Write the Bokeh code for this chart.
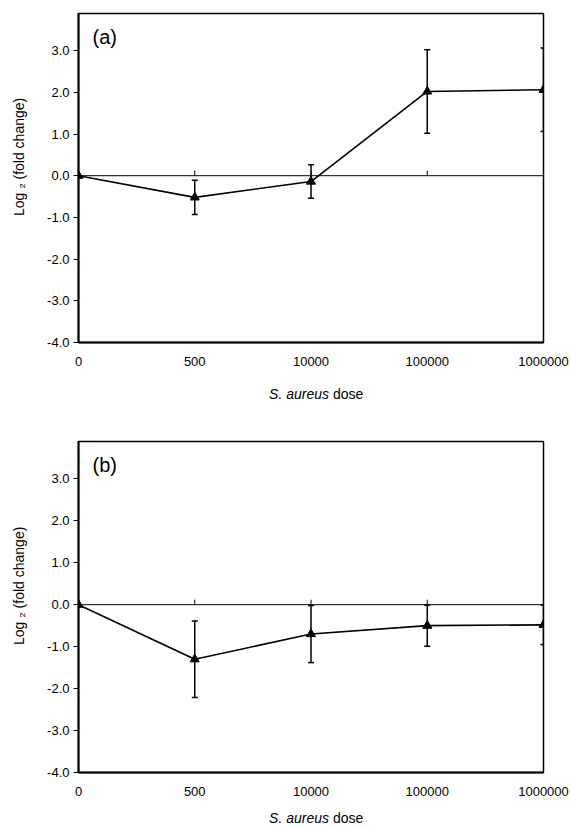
import math
from bokeh.plotting import figure
from bokeh.layouts import column, row
from bokeh.models import (Range1d, FixedTicker, PrintfTickFormatter,
                          Whisker, TeeHead, ColumnDataSource, Label, Span)
from bokeh.core.properties import value
from bokeh.embed import file_html
from bokeh.resources import INLINE

# ---- data ----
doses = ["0", "500", "10000", "100000", "1000000"]
a_mean = [0.0, -0.52, -0.14, 2.02, 2.06]
a_err = [0.0, 0.41, 0.40, 1.00, 1.00]
b_mean = [0.0, -1.30, -0.70, -0.50, -0.48]
b_err = [0.0, 0.91, 0.68, 0.49, 0.47]
y_ticks = [-4, -3, -2, -1, 0, 1, 2, 3]
y_min, y_max = -4.0, 3.89
panel_names = ["(a)", "(b)"]
x_title_italic = "S. aureus"
x_title_plain = "dose"
y_title = "Log \u2082 (fold change)"

FONT = "Liberation Sans"
FW = 465
BL, BR = 78, 27
YT_W = 37


def make_panel(mean, err, name, frame_h, top, bottom):
    idx = list(range(len(doses)))
    p = figure(frame_width=FW, frame_height=frame_h,
               x_range=Range1d(0, len(doses) - 1), y_range=Range1d(y_min, y_max),
               output_backend="svg", toolbar_location=None,
               min_border_left=BL - YT_W, min_border_right=BR,
               min_border_top=top, min_border_bottom=bottom)
    p.xgrid.visible = False
    p.ygrid.visible = False
    p.outline_line_color = "black"
    p.outline_line_width = 1.5
    p.outline_line_alpha = 1.0

    xa = p.xaxis[0]
    xa.ticker = FixedTicker(ticks=idx)
    xa.major_label_overrides = {i: d for i, d in zip(idx, doses)}
    xa.major_tick_in = 0
    xa.major_tick_out = 0
    xa.minor_tick_line_color = None
    xa.axis_line_width = 2
    xa.axis_line_color = "black"
    xa.major_label_standoff = 14
    xa.major_label_text_font = FONT
    xa.major_label_text_font_size = "13px"
    xa.major_label_text_color = "black"

    ya = p.yaxis[0]
    ya.ticker = FixedTicker(ticks=y_ticks)
    ya.formatter = PrintfTickFormatter(format="%.1f")
    ya.major_tick_in = 0
    ya.major_tick_out = 5
    ya.minor_tick_line_color = None
    ya.axis_line_width = 2
    ya.axis_line_color = "black"
    ya.major_tick_line_color = "black"
    ya.major_label_standoff = 4
    ya.major_label_text_font = FONT
    ya.major_label_text_font_size = "13px"
    ya.major_label_text_color = "black"

    # zero line with upward tick marks at each dose
    p.add_layout(Span(location=0, dimension="width", line_color="black",
                      line_width=1))
    p.ray(x=idx, y=[0] * len(idx), length=5, length_units="screen",
          angle=math.pi / 2, line_color="black", line_width=1)

    # error bars
    ex = [i for i, e in zip(idx, err) if e > 0]
    up = [m + e for m, e in zip(mean, err) if e > 0]
    lo = [m - e for m, e in zip(mean, err) if e > 0]
    src = ColumnDataSource(dict(x=ex, upper=up, lower=lo))
    w = Whisker(base="x", upper="upper", lower="lower", source=src,
                line_color="black", line_width=1.5,
                upper_head=TeeHead(size=6, line_color="black", line_width=1.5),
                lower_head=TeeHead(size=6, line_color="black", line_width=1.5))
    p.add_layout(w)

    p.line(idx, mean, line_color="black", line_width=1.6)
    p.scatter(idx, mean, marker="triangle", size=9, fill_color="black",
              line_color="black")

    p.add_layout(Label(x=0, y=y_max, x_offset=14, y_offset=-12, text=name,
                       text_font=FONT, text_font_size="20px",
                       text_baseline="top", text_align="left",
                       text_color="black"))
    return p


def make_ytitle(p, frame_h, top, bottom):
    t = figure(frame_width=YT_W, frame_height=frame_h, x_range=Range1d(0, 1),
               y_range=p.y_range, output_backend="svg", toolbar_location=None,
               min_border_left=0, min_border_right=0,
               min_border_top=top, min_border_bottom=bottom)
    t.axis.visible = False
    t.grid.visible = False
    t.outline_line_color = None
    t.text(x=[0.5], y=[0.45], text=[y_title], angle=math.pi / 2,
           text_font=value(FONT), text_font_size="14px", text_align="center",
           text_baseline="middle", text_color="black")
    return t


def make_title(x_range, height, y_off):
    t = figure(frame_width=FW, frame_height=height, x_range=x_range,
               y_range=Range1d(0, 1), output_backend="svg",
               toolbar_location=None, min_border_left=BL, min_border_right=BR,
               min_border_top=0, min_border_bottom=0)
    t.axis.visible = False
    t.grid.visible = False
    t.outline_line_color = None
    xc = (len(doses) - 1) / 2
    t.text(x=[xc], y=[0.5], text=[x_title_italic], x_offset=18, y_offset=y_off,
           text_font=value(FONT), text_font_style="italic",
           text_font_size="14px", text_align="right", text_baseline="middle",
           text_color="black")
    t.text(x=[xc], y=[0.5], text=[x_title_plain], x_offset=22, y_offset=y_off,
           text_font=value(FONT), text_font_size="14px", text_align="left",
           text_baseline="middle", text_color="black")
    return t


pa = make_panel(a_mean, a_err, panel_names[0], 329, 13, 30)
ya_t = make_ytitle(pa, 329, 13, 30)
ta = make_title(pa.x_range, 41, 1)
pb = make_panel(b_mean, b_err, panel_names[1], 331, 28, 30)
yb_t = make_ytitle(pb, 331, 28, 30)
tb = make_title(pb.x_range, 25, 3)

layout = column(row(ya_t, pa, spacing=0), ta, row(yb_t, pb, spacing=0), tb,
                spacing=0)
open("out.html", "w").write(file_html(layout, INLINE))
